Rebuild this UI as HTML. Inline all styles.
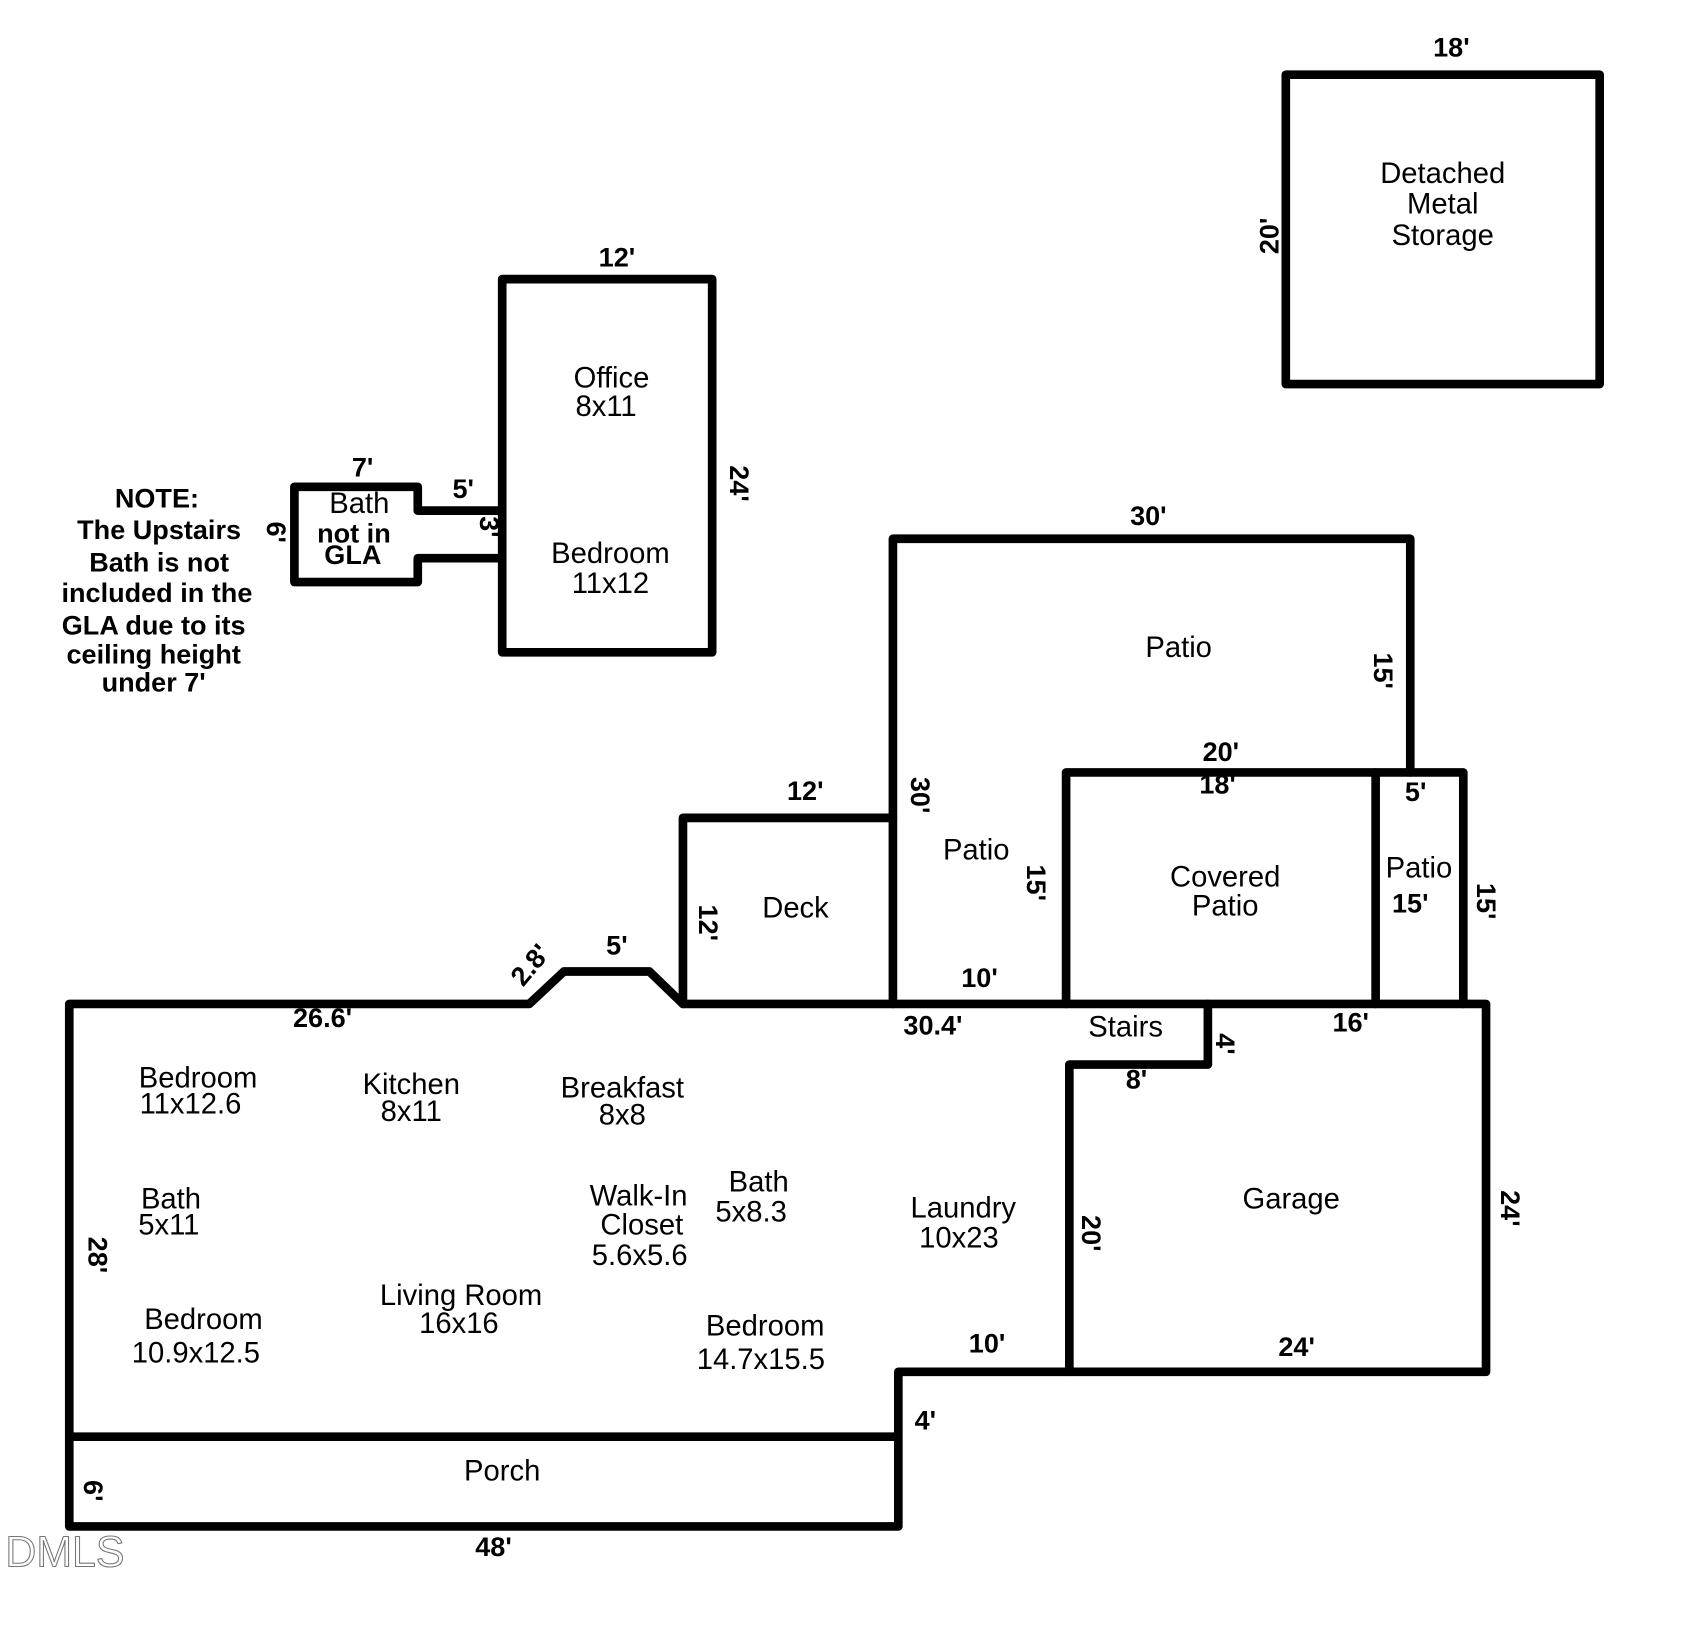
<!DOCTYPE html>
<html><head><meta charset="utf-8"><style>
html,body{margin:0;padding:0;background:#fff;}
svg{display:block;}
text{font-family:"Liberation Sans",Arial,sans-serif;fill:#000;text-anchor:middle;dominant-baseline:central;}
.r{font-size:27px;}
.b{font-size:25px;font-weight:bold;}
</style></head><body>
<svg width="1696" height="1626" viewBox="0 0 1567 1503" preserveAspectRatio="none" xmlns="http://www.w3.org/2000/svg">
<g fill="none" stroke="#000" stroke-width="8" stroke-linecap="round" stroke-linejoin="round">
<rect x="1188" y="69" width="290" height="286"/>
<rect x="464" y="258" width="194" height="345"/>
<polyline points="464,472 386,472 386,450 272,450 272,538 386,538 386,516 464,516"/>
<polyline points="825,928 825,498 1303,498 1303,714"/>
<polyline points="985,928 985,714 1352,714 1352,928"/>
<line x1="1271" y1="714" x2="1271" y2="928"/>
<polyline points="631,928 631,756 825,756"/>
<polyline points="64,1411 64,928 489,928 521,898 600,898 631,928 1373,928 1373,1268 830,1268 830,1411 64,1411"/>
<polyline points="1116,928 1116,984 988,984 988,1268"/>
<line x1="64" y1="1328" x2="830" y2="1328"/>
</g>
<g class="b">
<text x="1341" y="44">18'</text>
<text x="1173" y="218" transform="rotate(-90 1173 218)">20'</text>
<text x="570" y="238">12'</text>
<text x="683" y="447" transform="rotate(90 683 447)">24'</text>
<text x="335" y="432">7'</text>
<text x="428" y="452">5'</text>
<text x="452" y="487" transform="rotate(90 452 487)">3'</text>
<text x="255" y="492" transform="rotate(90 255 492)">6'</text>
<text x="1061" y="477">30'</text>
<text x="1278" y="620" transform="rotate(90 1278 620)">15'</text>
<text x="850" y="735" transform="rotate(90 850 735)">30'</text>
<text x="1128" y="695">20'</text>
<text x="1125" y="725">18'</text>
<text x="1308" y="732">5'</text>
<text x="1303" y="835">15'</text>
<text x="1373" y="833" transform="rotate(90 1373 833)">15'</text>
<text x="957" y="816" transform="rotate(90 957 816)">15'</text>
<text x="744" y="731">12'</text>
<text x="654" y="853" transform="rotate(90 654 853)">12'</text>
<text x="490" y="892" transform="rotate(-50 490 892)">2.8'</text>
<text x="570" y="874">5'</text>
<text x="298" y="941">26.6'</text>
<text x="862" y="948">30.4'</text>
<text x="905" y="904">10'</text>
<text x="1248" y="945">16'</text>
<text x="1132" y="965" transform="rotate(90 1132 965)">4'</text>
<text x="1050" y="998">8'</text>
<text x="1395" y="1117" transform="rotate(90 1395 1117)">24'</text>
<text x="1008" y="1140" transform="rotate(90 1008 1140)">20'</text>
<text x="1198" y="1245">24'</text>
<text x="912" y="1242">10'</text>
<text x="855" y="1313">4'</text>
<text x="90" y="1160" transform="rotate(90 90 1160)">28'</text>
<text x="86" y="1378" transform="rotate(90 86 1378)">6'</text>
<text x="456" y="1430">48'</text>
<text x="145" y="461">NOTE:</text>
<text x="147" y="490">The Upstairs</text>
<text x="147" y="520">Bath is not</text>
<text x="145" y="548">included in the</text>
<text x="142" y="578">GLA due to its</text>
<text x="142" y="605">ceiling height</text>
<text x="142" y="631">under 7'</text>
<text x="327" y="493">not in</text>
<text x="326" y="513">GLA</text>
</g>
<g class="r">
<text x="1333" y="161">Detached</text>
<text x="1333" y="189">Metal</text>
<text x="1333" y="218">Storage</text>
<text x="565" y="350">Office</text>
<text x="560" y="376">8x11</text>
<text x="564" y="512">Bedroom</text>
<text x="564" y="540">11x12</text>
<text x="332" y="466">Bath</text>
<text x="1089" y="599">Patio</text>
<text x="902" y="786">Patio</text>
<text x="1132" y="811">Covered</text>
<text x="1132" y="838">Patio</text>
<text x="1311" y="803">Patio</text>
<text x="735" y="840">Deck</text>
<text x="1040" y="950">Stairs</text>
<text x="1193" y="1109">Garage</text>
<text x="464" y="1360">Porch</text>
<text x="183" y="997">Bedroom</text>
<text x="176" y="1021">11x12.6</text>
<text x="380" y="1003">Kitchen</text>
<text x="380" y="1028">8x11</text>
<text x="575" y="1006">Breakfast</text>
<text x="575" y="1031">8x8</text>
<text x="158" y="1109">Bath</text>
<text x="156" y="1133">5x11</text>
<text x="590" y="1106">Walk-In</text>
<text x="593" y="1133">Closet</text>
<text x="591" y="1161">5.6x5.6</text>
<text x="701" y="1093">Bath</text>
<text x="694" y="1121">5x8.3</text>
<text x="890" y="1117">Laundry</text>
<text x="886" y="1145">10x23</text>
<text x="188" y="1220">Bedroom</text>
<text x="181" y="1251">10.9x12.5</text>
<text x="426" y="1198">Living Room</text>
<text x="424" y="1224">16x16</text>
<text x="707" y="1226">Bedroom</text>
<text x="703" y="1257">14.7x15.5</text>
</g>
<text x="60" y="1435" style="font-size:40px;fill:#fff;stroke:#777;stroke-width:1;" textLength="110" lengthAdjust="spacingAndGlyphs">DMLS</text>
</svg>
</body></html>
